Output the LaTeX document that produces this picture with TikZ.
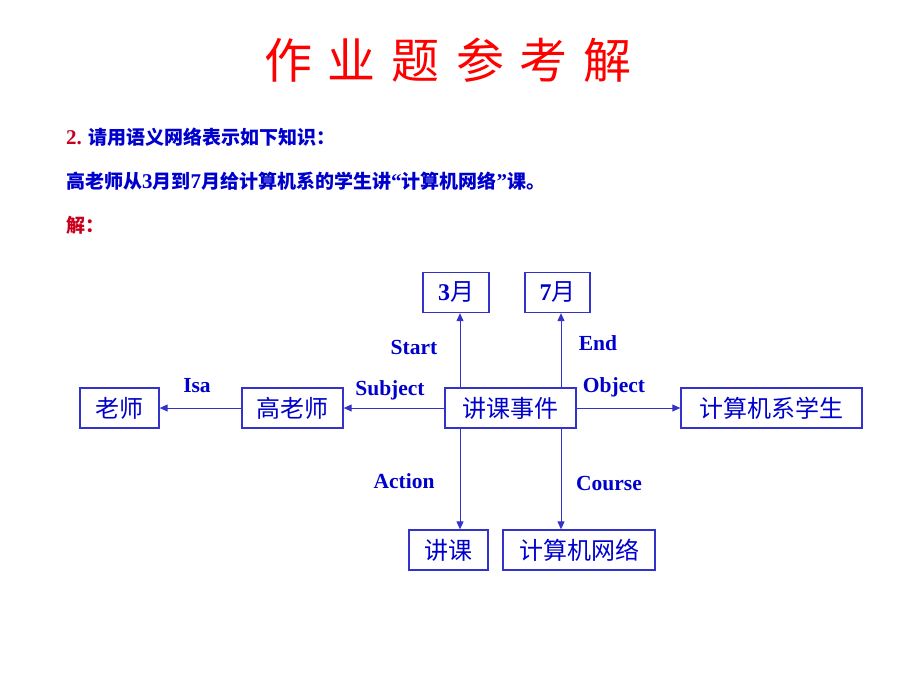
\documentclass[tikz,border=0pt]{standalone}
\usepackage{fontspec}
\setmainfont{Liberation Serif}
\newfontfamily\cjk{Noto Sans CJK SC}
\usetikzlibrary{arrows.meta}
\definecolor{tblue}{RGB}{0,0,204}
\definecolor{lblue}{RGB}{51,51,204}
\definecolor{dred}{RGB}{200,0,30}
\definecolor{tred}{RGB}{255,0,0}
\newcommand{\cj}[1]{{\fontsize{19}{23}\selectfont\cjk #1}}
\begin{document}
\begin{tikzpicture}[x=1pt,y=-1pt,
  box/.style={draw=lblue,line width=1.3pt,minimum height=40pt,inner sep=0pt,
    text=tblue,font=\fontsize{24}{28}\selectfont\cjk},
  rel/.style={text=tblue,font=\fontsize{21.5}{25}\selectfont\bfseries,inner sep=0pt},
  arr/.style={draw=lblue,line width=1pt,-{Triangle[length=8pt,width=7pt]}},
  para/.style={anchor=west,inner sep=0pt,font=\fontsize{21}{25}\selectfont\bfseries}]
\useasboundingbox (0,0) rectangle (920,690);
% title
\node[text=tred,font=\fontsize{48}{56}\selectfont\cjk] (title) at (448,60)
  {作\hspace{16pt}业\hspace{16pt}题\hspace{16pt}参\hspace{16pt}考\hspace{16pt}解};
% text
\node[para] (q) at (66,137) {\textcolor{dred}{2.} \textcolor{tblue}{\cj{请用语义网络表示如下知识：}}};
\node[para,text=tblue] (s) at (66,181) {\cj{高老师从}3\cj{月到}7\cj{月给计算机系的学生讲}“\cj{计算机网络}”\cj{课。}};
\node[para,text=dred] (a) at (66,225) {\cj{解：}};
% nodes
\node[box,minimum width=79pt] (ls) at (119.5,408) {老师};
\node[box,minimum width=101pt] (gls) at (292.5,408) {高老师};
\node[box,minimum width=131pt] (ev) at (510.5,408) {讲课事件};
\node[box,minimum width=181pt] (stu) at (771.5,408) {计算机系学生};
\node[box,minimum width=66pt] (m3) at (456,292.5) {{\rmfamily\bfseries 3}月};
\node[box,minimum width=65pt] (m7) at (557.5,292.5) {{\rmfamily\bfseries 7}月};
\node[box,minimum width=79pt] (jk) at (448.5,550) {讲课};
\node[box,minimum width=152pt] (net) at (579,550) {计算机网络};
\coordinate (c1) at (460,0);
\coordinate (c2) at (561,0);
% connectors
\draw[arr] (ev.west) -- (gls.east);
\draw[arr] (gls.west) -- (ls.east);
\draw[arr] (ev.east) -- (stu.west);
\draw[arr] (ev.north -| c1) -- (m3.south -| c1);
\draw[arr] (ev.north -| c2) -- (m7.south -| c2);
\draw[arr] (ev.south -| c1) -- (jk.north -| c1);
\draw[arr] (ev.south -| c2) -- (net.north -| c2);
% labels
\node[rel] (lisa) at (197,386) {Isa};
\node[rel] (lsub) at (390,390) {Subject};
\node[rel] (lsta) at (414,347) {Start};
\node[rel] (lend) at (598,343) {End};
\node[rel] (lobj) at (614,387) {Object};
\node[rel] (lact) at (404,481) {Action};
\node[rel] (lcou) at (609,484) {Course};
\end{tikzpicture}
\end{document}
